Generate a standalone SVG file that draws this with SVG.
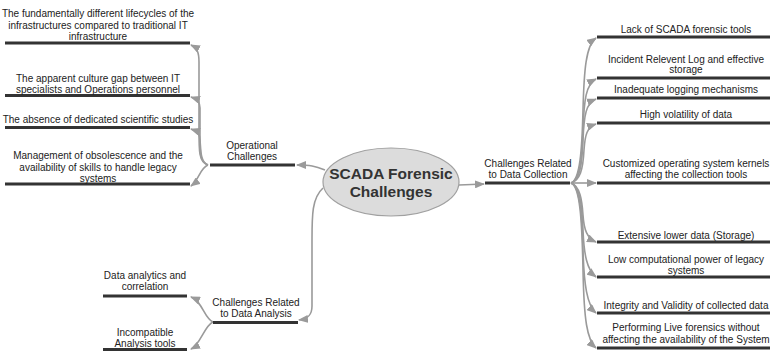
<svg xmlns="http://www.w3.org/2000/svg" width="770" height="351" viewBox="0 0 770 351">
<style>
text{font-family:"Liberation Sans",Arial,sans-serif;font-size:10px;fill:#222;text-anchor:middle}
.t{font-size:15.5px;font-weight:bold;fill:#333}
.u{stroke:#333;stroke-width:3;fill:none}
.c{stroke:#9a9a9a;stroke-width:1.6;fill:none;marker-end:url(#a)}
</style>
<defs>
<marker id="a" viewBox="0 0 10 8" refX="9" refY="4" markerWidth="10" markerHeight="8" markerUnits="userSpaceOnUse" orient="auto">
<path d="M0,0 L10,4 L0,8 Z" fill="#9a9a9a"/>
</marker>
</defs>
<rect width="770" height="351" fill="#fff"/>
<g id="connectors">
<path class="c" d="M325,170 C315,166 310,165 297,165"/>
<path class="c" d="M459,185 L484,184"/>
<path class="c" d="M323,188 C312,198 312,215 312,240 L312,306 C312,315 308,319 299,320"/>
<path class="c" d="M208,165 C198,162 199,150 199,120 L199,62 C199,52 197,48 191,45"/>
<path class="c" d="M208,165 C199,162 200,150 200,130 L200,108 C200,102 197,99 191,97"/>
<path class="c" d="M208,165 C200,162 201,150 200,140 C200,135 197,131 191,129"/>
<path class="c" d="M208,165 C200,168 199,180 191,186"/>
<path class="c" d="M213,322 C204,318 203,302 191,297"/>
<path class="c" d="M213,322 C204,326 201,344 191,349"/>
<path class="c" d="M571,183 C580,180 582,150 583,110 C584,70 586,45 596,38"/>
<path class="c" d="M571,183 C580,180 582,160 583,130 C584,100 586,84 596,79"/>
<path class="c" d="M571,183 C580,180 582,165 583,140 C584,115 586,103 596,99"/>
<path class="c" d="M571,183 C580,180 583,170 584,150 C585,135 587,127 596,124"/>
<path class="c" d="M571,183 L596,183"/>
<path class="c" d="M571,183 C580,186 582,200 583,215 C584,230 587,238 596,242"/>
<path class="c" d="M571,183 C580,186 582,205 583,230 C584,255 587,270 596,277"/>
<path class="c" d="M571,183 C580,186 582,215 583,250 C584,285 587,305 596,313"/>
<path class="c" d="M571,183 C580,186 582,220 583,270 C584,320 587,340 596,348"/>
</g>
<g id="root">
<ellipse cx="391" cy="182" rx="68" ry="34" fill="#dcdcdc" stroke="#a0a0a0" stroke-width="1.2"/>
<text class="t" x="391" y="179">SCADA Forensic</text>
<text class="t" x="391" y="197">Challenges</text>
</g>
<g id="operational">
<line class="u" x1="210" y1="165" x2="295" y2="165"/>
<text x="252" y="149">Operational</text>
<text x="252" y="160">Challenges</text>
</g>
<g id="op1">
<line class="u" x1="5" y1="43" x2="190" y2="43"/>
<text x="98" y="17">The fundamentally different lifecycles of the</text>
<text x="98" y="28.5">infrastructures compared to traditional IT</text>
<text x="98" y="40">infrastructure</text>
</g>
<g id="op2">
<line class="u" x1="5" y1="95.5" x2="190" y2="95.5"/>
<text x="98" y="81.5">The apparent culture gap between IT</text>
<text x="98" y="92.5">specialists and Operations personnel</text>
</g>
<g id="op3">
<line class="u" x1="5" y1="127.5" x2="190" y2="127.5"/>
<text x="98" y="123">The absence of dedicated scientific studies</text>
</g>
<g id="op4">
<line class="u" x1="5" y1="184" x2="190" y2="184"/>
<text x="98" y="159">Management of obsolescence and the</text>
<text x="98" y="170.5">availability of skills to handle legacy</text>
<text x="98" y="181.5">systems</text>
</g>
<g id="analysis">
<line class="u" x1="213" y1="322.5" x2="298" y2="322.5"/>
<text x="256" y="306">Challenges Related</text>
<text x="256" y="317">to Data Analysis</text>
</g>
<g id="an1">
<line class="u" x1="103" y1="296" x2="187" y2="296"/>
<text x="145" y="279">Data analytics and</text>
<text x="145" y="290">correlation</text>
</g>
<g id="an2">
<line class="u" x1="103" y1="349.5" x2="187" y2="349.5"/>
<text x="145" y="336">Incompatible</text>
<text x="145" y="346.5">Analysis tools</text>
</g>
<g id="collection">
<line class="u" x1="485" y1="183" x2="570" y2="183"/>
<text x="528" y="167">Challenges Related</text>
<text x="528" y="178">to Data Collection</text>
</g>
<g id="dc1">
<line class="u" x1="597" y1="37" x2="770" y2="37"/>
<text x="686" y="32.5">Lack of SCADA forensic tools</text>
</g>
<g id="dc2">
<line class="u" x1="597" y1="78" x2="770" y2="78"/>
<text x="686" y="63">Incident Relevent Log and effective</text>
<text x="686" y="73">storage</text>
</g>
<g id="dc3">
<line class="u" x1="597" y1="98" x2="770" y2="98"/>
<text x="686" y="93">Inadequate logging mechanisms</text>
</g>
<g id="dc4">
<line class="u" x1="597" y1="123" x2="770" y2="123"/>
<text x="686" y="118">High volatility of data</text>
</g>
<g id="dc5">
<line class="u" x1="597" y1="183" x2="770" y2="183"/>
<text x="686" y="167">Customized operating system kernels</text>
<text x="686" y="178">affecting the collection tools</text>
</g>
<g id="dc6">
<line class="u" x1="597" y1="242" x2="770" y2="242"/>
<text x="686" y="239">Extensive lower data (Storage)</text>
</g>
<g id="dc7">
<line class="u" x1="597" y1="277" x2="770" y2="277"/>
<text x="686" y="262.5">Low computational power of legacy</text>
<text x="686" y="274">systems</text>
</g>
<g id="dc8">
<line class="u" x1="597" y1="313" x2="770" y2="313"/>
<text x="686" y="309">Integrity and Validity of collected data</text>
</g>
<g id="dc9">
<line class="u" x1="597" y1="348" x2="770" y2="348"/>
<text x="686" y="331">Performing Live forensics without</text>
<text x="686" y="343">affecting the availability of the System</text>
</g>
</svg>
